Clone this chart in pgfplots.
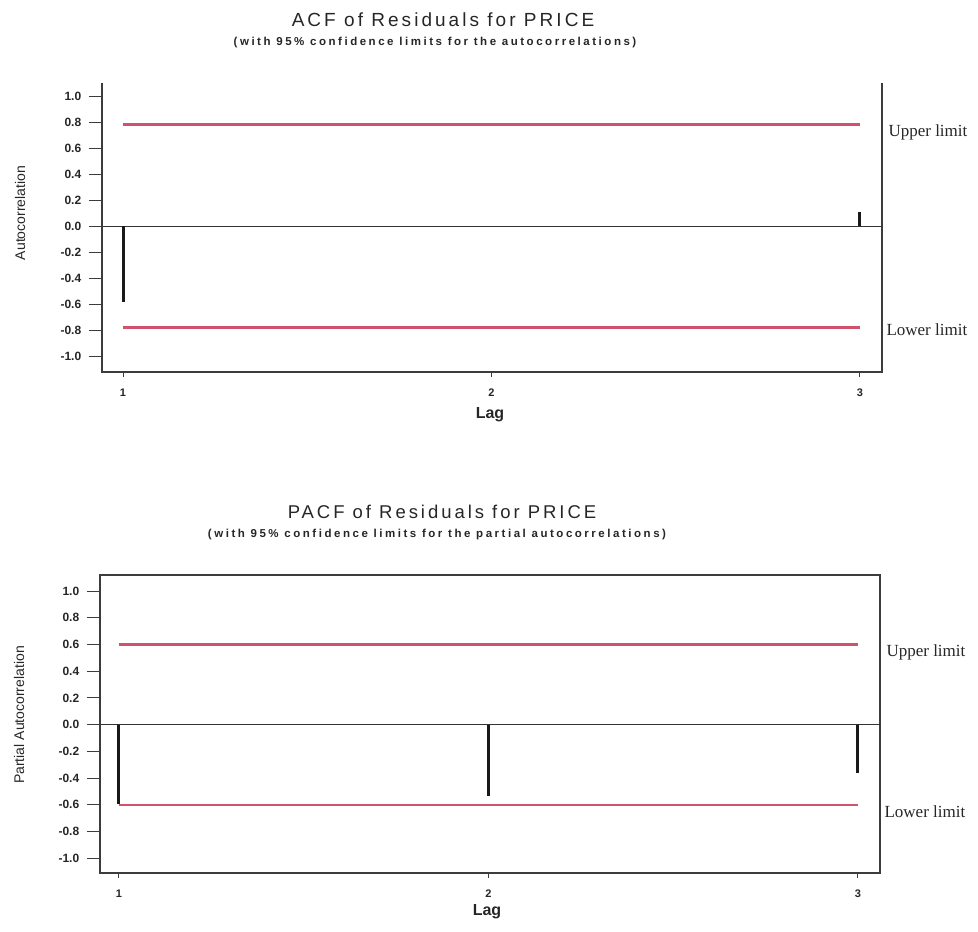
\documentclass[border=0pt]{standalone}
\usepackage{fontspec}
\setmainfont{Liberation Sans}
\newfontfamily\seriffont{Liberation Serif}
\newfontfamily\titlefont[LetterSpace=16]{Liberation Sans}
\newfontfamily\subfont[LetterSpace=22]{Liberation Sans}
\usepackage{pgfplots}
\pgfplotsset{compat=1.18}

\definecolor{limred}{RGB}{208,82,108}
\definecolor{axcol}{RGB}{60,60,60}

\pgfplotstableread{
lag val
1 -0.585
2 0.0
3 0.11
}\acfdata
\pgfplotstableread{
lag val
1 -0.59
2 -0.53
3 -0.36
}\pacfdata

\pgfplotsset{
  corrstyle/.style={
    scale only axis,
    width=780pt,
    xtick={1,2,3},
    ytick={-1.0,-0.8,-0.6,-0.4,-0.2,0,0.2,0.4,0.6,0.8,1.0},
    tick align=outside,
    xtick pos=left, ytick pos=left,
    ytick style={axcol, line width=1pt, /pgfplots/major tick length=13pt},
    xtick style={axcol, line width=0.8pt, /pgfplots/major tick length=5pt},
    yticklabel style={/pgf/number format/.cd, fixed, fixed zerofill, precision=1, assume math mode=true,
      /tikz/.cd, font=\fontsize{12}{13}\selectfont\bfseries, text=black!85, xshift=-13pt},
    xticklabel style={/pgf/number format/assume math mode=true,
      font=\fontsize{11}{12}\selectfont\bfseries, text=black!85, yshift=-9pt},
    clip=false,
  }
}

\begin{document}
\begin{tikzpicture}
\path[use as bounding box] (0,0) rectangle (978pt,-932pt);

% ---------------- ACF ----------------
\begin{axis}[corrstyle,
  at={(102pt,-372pt)}, anchor=south west,
  height=289pt,
  xmin=0.943, xmax=3.06,
  ymin=-1.12, ymax=1.10,
  axis line style={draw=none},
]
\draw[axcol, line width=1.2pt] (rel axis cs:0,1) -- (rel axis cs:0,0) -- (rel axis cs:1,0) -- (rel axis cs:1,1);
\addplot[black!80, line width=1.3pt] coordinates {(0.943,0) (3.06,0)};
\addplot[limred, line width=2.6pt] coordinates {(1,0.78) (3,0.78)};
\addplot[limred, line width=2.6pt] coordinates {(1,-0.78) (3,-0.78)};
\addplot[ycomb, black!90, line width=3pt, mark=none] table[x=lag, y=val] {\acfdata};
\end{axis}

% ---------------- PACF ----------------
\begin{axis}[corrstyle,
  at={(100pt,-873pt)}, anchor=south west,
  height=298pt,
  xmin=0.949, xmax=3.06,
  ymin=-1.11, ymax=1.12,
  axis line style={axcol, line width=1.2pt},
]
\addplot[black!80, line width=1.3pt] coordinates {(0.949,0) (3.06,0)};
\addplot[limred, line width=2.6pt] coordinates {(1,0.60) (3,0.60)};
\addplot[limred, line width=2.6pt] coordinates {(1,-0.60) (3,-0.60)};
\addplot[ycomb, black!90, line width=3pt, mark=none] table[x=lag, y=val] {\pacfdata};
\end{axis}

% ---------------- texts ----------------
\node[text=black!85] at (443pt,-20pt) {\titlefont\fontsize{19}{21}\selectfont ACF of Residuals for PRICE};
\node[text=black!85] at (435pt,-43pt) {\subfont\fontsize{11.5}{12.5}\selectfont\bfseries (with 95\% confidence limits for the autocorrelations)};
\node[text=black!85] at (442pt,-512pt) {\titlefont\fontsize{18.5}{20}\selectfont PACF of Residuals for PRICE};
\node[text=black!85] at (437pt,-535pt) {\subfont\fontsize{11.5}{12.5}\selectfont\bfseries (with 95\% confidence limits for the partial autocorrelations)};

\node[rotate=90, text=black!85] at (20pt,-213pt) {\fontsize{14}{15}\selectfont Autocorrelation};
\node[rotate=90, text=black!85] at (19pt,-715pt) {\fontsize{14}{15}\selectfont Partial Autocorrelation};

\node[text=black!85] at (490pt,-415pt) {\fontsize{16}{17}\selectfont\bfseries Lag};
\node[text=black!85] at (487pt,-912pt) {\fontsize{16}{17}\selectfont\bfseries Lag};

\node[anchor=west, text=black!85] at (885pt,-132pt) {\seriffont\fontsize{17}{18}\selectfont Upper limit};
\node[anchor=west, text=black!85] at (883pt,-330pt) {\seriffont\fontsize{17}{18}\selectfont Lower limit};
\node[anchor=west, text=black!85] at (883pt,-652pt) {\seriffont\fontsize{17}{18}\selectfont Upper limit};
\node[anchor=west, text=black!85] at (881pt,-812pt) {\seriffont\fontsize{17}{18}\selectfont Lower limit};
\end{tikzpicture}
\end{document}
